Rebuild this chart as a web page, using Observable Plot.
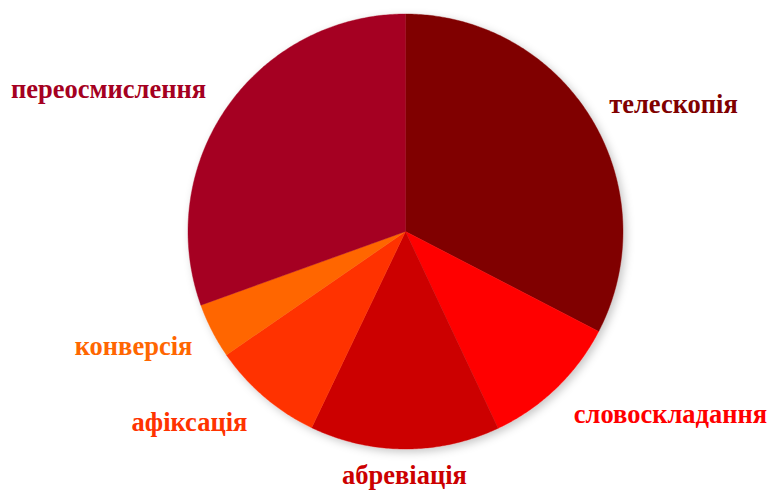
<!DOCTYPE html>
<html>
<head>
<meta charset="utf-8">
<script src="https://cdn.jsdelivr.net/npm/d3@7"></script>
<script src="https://cdn.jsdelivr.net/npm/@observablehq/plot@0.6"></script>
<style>
  html, body { margin: 0; padding: 0; background: #fff; }
  #chart { width: 771px; height: 492px; }
</style>
</head>
<body>
<div id="chart"></div>
<script>
// ---- data ----
const categories = ["телескопія", "словоскладання", "абревіація", "афіксація", "конверсія", "переосмислення"];
const values = [32.6, 10.4, 14.1, 8.3, 4.1, 30.5];
const colors = ["#800000", "#FF0000", "#CC0000", "#FF3300", "#FF6600", "#A50021"];

// ---- layout ----
const W = 771, H = 492;
const CX = 405, CY = 231, R = 217.5;
// label baseline anchors, px offset from pie centre
const labelOffsets = [[268, -119], [265, 191], [-1, 252], [-216, 199], [-272, 123], [-297, -134]];

const arcs = d3.pie().sort(null).value(d => d)(values);

// slice outlines in unit-radius space (x right, y down)
const slicePts = [];
arcs.forEach((a, i) => {
  const name = categories[i];
  slicePts.push({name, x: 0, y: 0});
  const n = Math.max(8, Math.ceil((a.endAngle - a.startAngle) / 0.01));
  for (let k = 0; k <= n; k++) {
    const t = a.startAngle + (a.endAngle - a.startAngle) * k / n;
    slicePts.push({name, x: Math.sin(t), y: -Math.cos(t)});
  }
  slicePts.push({name, x: 0, y: 0});
});

const labels = categories.map((c, i) => ({
  name: c,
  x: labelOffsets[i][0] / R,
  y: labelOffsets[i][1] / R
}));

const plot = Plot.plot({
  width: W,
  height: H,
  margin: 0,
  x: {domain: [-CX / R, (W - CX) / R], range: [0, W], axis: null},
  y: {domain: [-CY / R, (H - CY) / R], range: [0, H], axis: null},
  color: {domain: categories, range: colors},
  style: {background: "white"},
  marks: [
    Plot.line(slicePts, {x: "x", y: "y", z: "name", fill: "name", stroke: "name", strokeWidth: 0.4, curve: "linear"}),
    Plot.text(labels, {
      x: "x", y: "y", text: "name", fill: "name",
      fontSize: 26.5, fontWeight: "bold",
      fontFamily: "'Times New Roman', 'Liberation Serif', serif",
      lineAnchor: "bottom", textAnchor: "middle"
    })
  ]
});

// soft drop shadow under the pie
const svg = d3.select(plot);
const defs = svg.insert("defs", ":first-child");
const f = defs.append("filter").attr("id", "pieShadow")
  .attr("x", "-10%").attr("y", "-10%").attr("width", "120%").attr("height", "120%");
f.append("feDropShadow").attr("dx", 3).attr("dy", 3).attr("stdDeviation", 4)
  .attr("flood-color", "#000").attr("flood-opacity", 0.22);
svg.select("g[aria-label='line']").attr("filter", "url(#pieShadow)");

document.getElementById("chart").appendChild(plot);
</script>
</body>
</html>
